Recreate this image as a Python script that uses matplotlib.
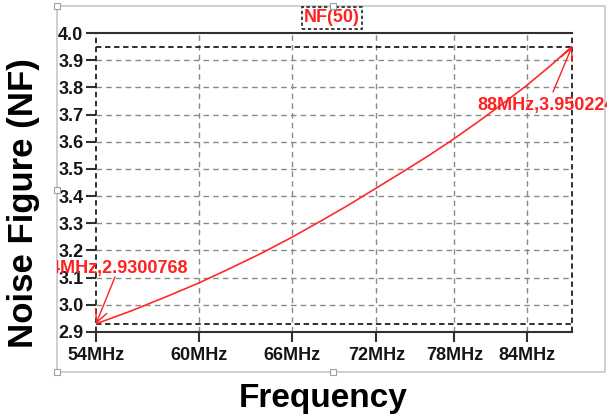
import matplotlib
matplotlib.use("Agg")
import matplotlib.pyplot as plt
from matplotlib.patches import Rectangle
from matplotlib.transforms import Bbox, TransformedBbox
import numpy as np

# données (NF en fonction de la fréquence)
freq_mhz = [54, 56, 58, 60, 62, 64, 66, 68, 70, 72, 74, 76, 78, 80, 82, 84, 86, 88]
nf = [2.9300768, 2.978, 3.029, 3.08, 3.135, 3.19, 3.248, 3.308, 3.368, 3.43,
      3.49, 3.55, 3.612, 3.676, 3.741, 3.807, 3.877, 3.9502247]
xticks = [54, 60, 66, 72, 78, 84]
xtick_labels = ["54MHz", "60MHz", "66MHz", "72MHz", "78MHz", "84MHz"]
yticks = [2.9, 3.0, 3.1, 3.2, 3.3, 3.4, 3.5, 3.6, 3.7, 3.8, 3.9, 4.0]
trace_name = "NF(50)"

W, H = 607, 418
fig = plt.figure(figsize=(W / 100, H / 100), dpi=100)
plt.rcParams['font.family'] = ['Liberation Sans', 'DejaVu Sans']


def px(x, y):
    # pixels (origine en haut à gauche) -> fraction de figure
    return (x / W, 1 - y / H)


ax = fig.add_axes([96 / W, 1 - 332 / H, (572 - 96) / W, (332 - 33) / H])
ax.set_xscale("log")
ax.set_xlim(54, 88)
ax.set_ylim(2.9, 4.0)

# grille pointillée grise
for xv in xticks[1:]:
    ax.axvline(xv, color="#8a8a8a", lw=1, ls=(0, (4, 3)), zorder=1)
for yv in yticks[1:-1]:
    ax.axhline(yv, color="#8a8a8a", lw=1, ls=(0, (4, 3)), zorder=1)

# boite des extrema (pointillés noirs)
x0, x1 = freq_mhz[0], freq_mhz[-1]
y0, y1 = min(nf), max(nf)
box_style = dict(color="#202020", lw=1.3, ls=(0, (3, 2)), zorder=2, clip_on=False)
ax.plot([x0, x1], [y0, y0], **box_style)
ax.plot([x0, x1], [y1, y1], **box_style)
ax.plot([x0, x0], [2.9, 4.0], **box_style)
ax.plot([x1, x1], [2.9, 4.0], **box_style)

# courbe
ax.plot(freq_mhz, nf, color="#ff2a2a", lw=1.2, zorder=3)

ax.set_xticks(xticks)
ax.set_xticklabels(xtick_labels)
ax.xaxis.set_minor_locator(matplotlib.ticker.NullLocator())
ax.set_yticks(yticks)
ax.set_yticklabels(["%.1f" % v for v in yticks])
for lab in ax.get_xticklabels() + ax.get_yticklabels():
    lab.set_fontweight("bold")
    lab.set_fontsize(13)
    lab.set_color("#151515")
ax.tick_params(axis="x", direction="out", length=7.5, width=1.5, color="#303030", pad=3.5)
ax.tick_params(axis="y", direction="out", length=7.5, width=1.5, color="#303030", pad=1.5)
for s in ["left", "right"]:
    ax.spines[s].set_visible(False)
for s in ["top", "bottom"]:
    ax.spines[s].set_color("#303030")
    ax.spines[s].set_linewidth(1.5)

# étiquettes d'axes
fig.text(*px(24, 203), "Noise Figure (NF)", rotation=90, ha="center", va="center",
         fontsize=25, fontweight="bold", color="black")
fig.text(*px(323, 407), "Frequency", ha="center", va="baseline",
         fontsize=24, fontweight="bold", color="black")

# nom de la trace dans une boite pointillée
fig.text(*px(332, 18), trace_name, ha="center", va="center", fontsize=13,
         fontweight="bold", color="#ff2020",
         bbox=dict(boxstyle="square,pad=0.12", fc="white", ec="#202020", lw=1.2, ls=(0, (2, 1.5))))

# curseurs / annotations
red = "#ff2020"
fig.text(*px(477, 110), "%dMHz,%s" % (freq_mhz[-1], "3.9502247"), ha="left", va="baseline",
         fontsize=13, fontweight="bold", color=red)
ax.annotate("", xy=(x1, y1), xycoords="data", xytext=px(553, 92), textcoords="figure fraction",
            arrowprops=dict(arrowstyle="->", color=red, lw=1, mutation_scale=22, shrinkA=0, shrinkB=0))
t = fig.text(*px(188, 273), "%dMHz,%s" % (freq_mhz[0], "2.9300768"), ha="right", va="baseline",
             fontsize=13, fontweight="bold", color=red)
t.set_clip_box(TransformedBbox(Bbox([[57 / W, 0], [1, 1]]), fig.transFigure))
t.set_clip_on(True)
ax.annotate("", xy=(x0, y0), xycoords="data", xytext=px(115, 277), textcoords="figure fraction",
            arrowprops=dict(arrowstyle="->", color=red, lw=1, mutation_scale=22, shrinkA=0, shrinkB=0))

# cadre de l'objet graphique avec poignées
fig.patches.append(Rectangle(px(57, 372), (605 - 57) / W, (372 - 6) / H, transform=fig.transFigure,
                             fill=False, ec="#c4c8cc", lw=1.2))
for hx, hy in [(57, 6), (333, 6), (57, 190), (57, 372), (333, 372)]:
    cx, cy = px(hx, hy)
    fig.patches.append(Rectangle((cx - 3 / W, cy - 3 / H), 6 / W, 6 / H, transform=fig.transFigure,
                                 fc="white", ec="#a0a0a0", lw=0.8, zorder=5))

fig.savefig("out.png", dpi=100)
